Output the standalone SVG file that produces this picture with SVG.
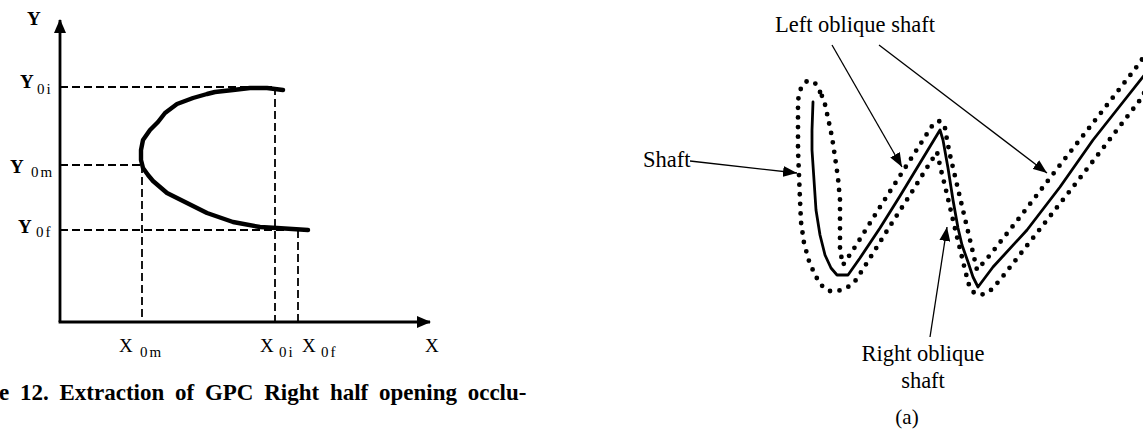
<svg xmlns="http://www.w3.org/2000/svg" width="1143" height="432" viewBox="0 0 1143 432">
<style>
  .axis{stroke:#000;stroke-width:2.8;fill:none}
  .dash{stroke:#000;stroke-width:1.8;fill:none;stroke-dasharray:8 4}
  .curve{stroke:#000;stroke-width:4.4;fill:none;stroke-linejoin:round;stroke-linecap:round}
  .solid{stroke:#000;stroke-width:2.8;fill:none;stroke-linejoin:round;stroke-linecap:round}
  .dots{stroke:#000;stroke-width:4.8;fill:none;stroke-dasharray:0 9.6;stroke-linecap:round;stroke-linejoin:round}
  .lead{stroke:#000;stroke-width:1.3;fill:none}
  .lbl{font-family:"Liberation Serif","Times New Roman",serif;fill:#000}
  .ybig{font-size:19px;font-weight:bold}
  .sub{font-size:15px;letter-spacing:2px}
  .xbig{font-size:19px}
  .rt{font-size:22.5px}
  .cap{font-size:23px;font-weight:bold}
</style>
<defs>
  <marker id="head" viewBox="0 0 14 11" refX="14" refY="5.5" markerWidth="14" markerHeight="11" markerUnits="userSpaceOnUse" orient="auto">
    <path d="M0,0 L14,5.5 L0,11 Z" fill="#000"/>
  </marker>
  <marker id="axhead" viewBox="0 0 14 12" refX="13" refY="6" markerWidth="14" markerHeight="12" markerUnits="userSpaceOnUse" orient="auto">
    <path d="M0,0 L14,6 L0,12 Z" fill="#000"/>
  </marker>
</defs>

<!-- Left chart -->
<g id="axes">
  <line class="axis" x1="60" y1="322" x2="60" y2="20" marker-end="url(#axhead)"/>
  <line class="axis" x1="58.6" y1="322" x2="430" y2="322" marker-end="url(#axhead)"/>
</g>
<g id="guides">
  <line class="dash" x1="60" y1="87" x2="275" y2="87"/>
  <line class="dash" x1="60" y1="165" x2="142" y2="165"/>
  <line class="dash" x1="60" y1="230" x2="305" y2="230"/>
  <line class="dash" x1="142" y1="165" x2="142" y2="322"/>
  <line class="dash" x1="275" y1="87" x2="275" y2="322"/>
  <line class="dash" x1="298" y1="230" x2="298" y2="322"/>
</g>
<g id="gpc-curve">
  <polyline class="curve" points="283,90 267,88 250,88 233,90 215,92 207,94 193,98 177,104 165,113 158,122 150,130 143,140 141,150 141,160 143,168 148,175 153,181 167,193 187,203 207,213 233,222 260,227 277,228 308,230"/>
</g>
<g id="axis-labels" class="lbl">
  <text class="ybig" x="27" y="25">Y</text>
  <text x="20" y="88"><tspan class="ybig">Y</tspan></text>
  <text class="sub" x="37" y="94">0i</text>
  <text x="10" y="173"><tspan class="ybig">Y</tspan></text>
  <text class="sub" x="31" y="177">0m</text>
  <text x="18" y="233"><tspan class="ybig">Y</tspan></text>
  <text class="sub" x="36" y="237">0f</text>
  <text class="xbig" x="119" y="352">X</text>
  <text class="sub" x="140" y="357">0m</text>
  <text class="xbig" x="260" y="352">X</text>
  <text class="sub" x="279" y="357">0i</text>
  <text class="xbig" x="302" y="352">X</text>
  <text class="sub" x="321" y="357">0f</text>
  <text class="xbig" x="425" y="352">X</text>
</g>
<g id="caption" class="lbl">
  <text class="cap" x="-1" y="400" word-spacing="5">e 12. Extraction of GPC Right half opening occlu-</text>
</g>

<!-- Right figure -->
<g id="shape">
  <path class="solid" d="M813,102 L812,130 L812,150 L814,180 L816,210 L820,235 L825,255 L831,268 L837,275 L848,275 L860,258 L880,228 L900,196 L920,163 L940,130 L943,140 L948,168 L953,200 L958,228 L962,245 L968,262 L973,277 L978,287 L993,267 L1027,230 L1060,187 L1093,140 L1127,97 L1150,68"/>
  <path class="dots" d="M820,92 L815,83 L807,81 L801,88 L798,100 L798,125 L798,150 L799,175 L800,200 L801,222 L804,243 L809,261 L815,275 L821,285 L829,291 L838,291 L848,287 L856,280 L870,258 L890,226 L910,195 L928,166 L937,152 L941,170 L945,186 L949,203 L953,220 L957,237 L961,253 L965,270 L969,285 L973,292 L981,295 L990,291 L1000,280 L1040,229 L1080,178 L1120,126 L1140,100 L1151,81 L1158,65 L1150,52 L1143,58 L1135,69 L1100,114 L1060,165 L1020,217 L990,255 L977,270 L974,257 L970,240 L966,223 L962,206 L958,189 L954,172 L950,155 L947,140 L945,128 L940,121 L934,123 L932,126 L905,168 L880,207 L855,247 L843,265 L840,250 L840,225 L840,200 L838,178 L835,157 L832,137 L828,118 L824,100 Z"/>
</g>
<g id="connectors">
  <line class="lead" x1="690" y1="161" x2="797" y2="173" marker-end="url(#head)"/>
  <line class="lead" x1="832" y1="45" x2="902" y2="167" marker-end="url(#head)"/>
  <line class="lead" x1="879" y1="45" x2="1047" y2="173" marker-end="url(#head)"/>
  <line class="lead" x1="930" y1="337" x2="947" y2="227" marker-end="url(#head)"/>
</g>
<g id="label-left-oblique" class="lbl"><text class="rt" x="775" y="32">Left oblique shaft</text></g>
<g id="label-shaft" class="lbl"><text class="rt" x="643" y="167">Shaft</text></g>
<g id="label-right-oblique" class="lbl">
  <text class="rt" x="923" y="361" text-anchor="middle">Right oblique</text>
  <text class="rt" x="923" y="388" text-anchor="middle">shaft</text>
</g>
<g id="label-a" class="lbl"><text x="907" y="424" text-anchor="middle" font-size="21">(a)</text></g>
</svg>
